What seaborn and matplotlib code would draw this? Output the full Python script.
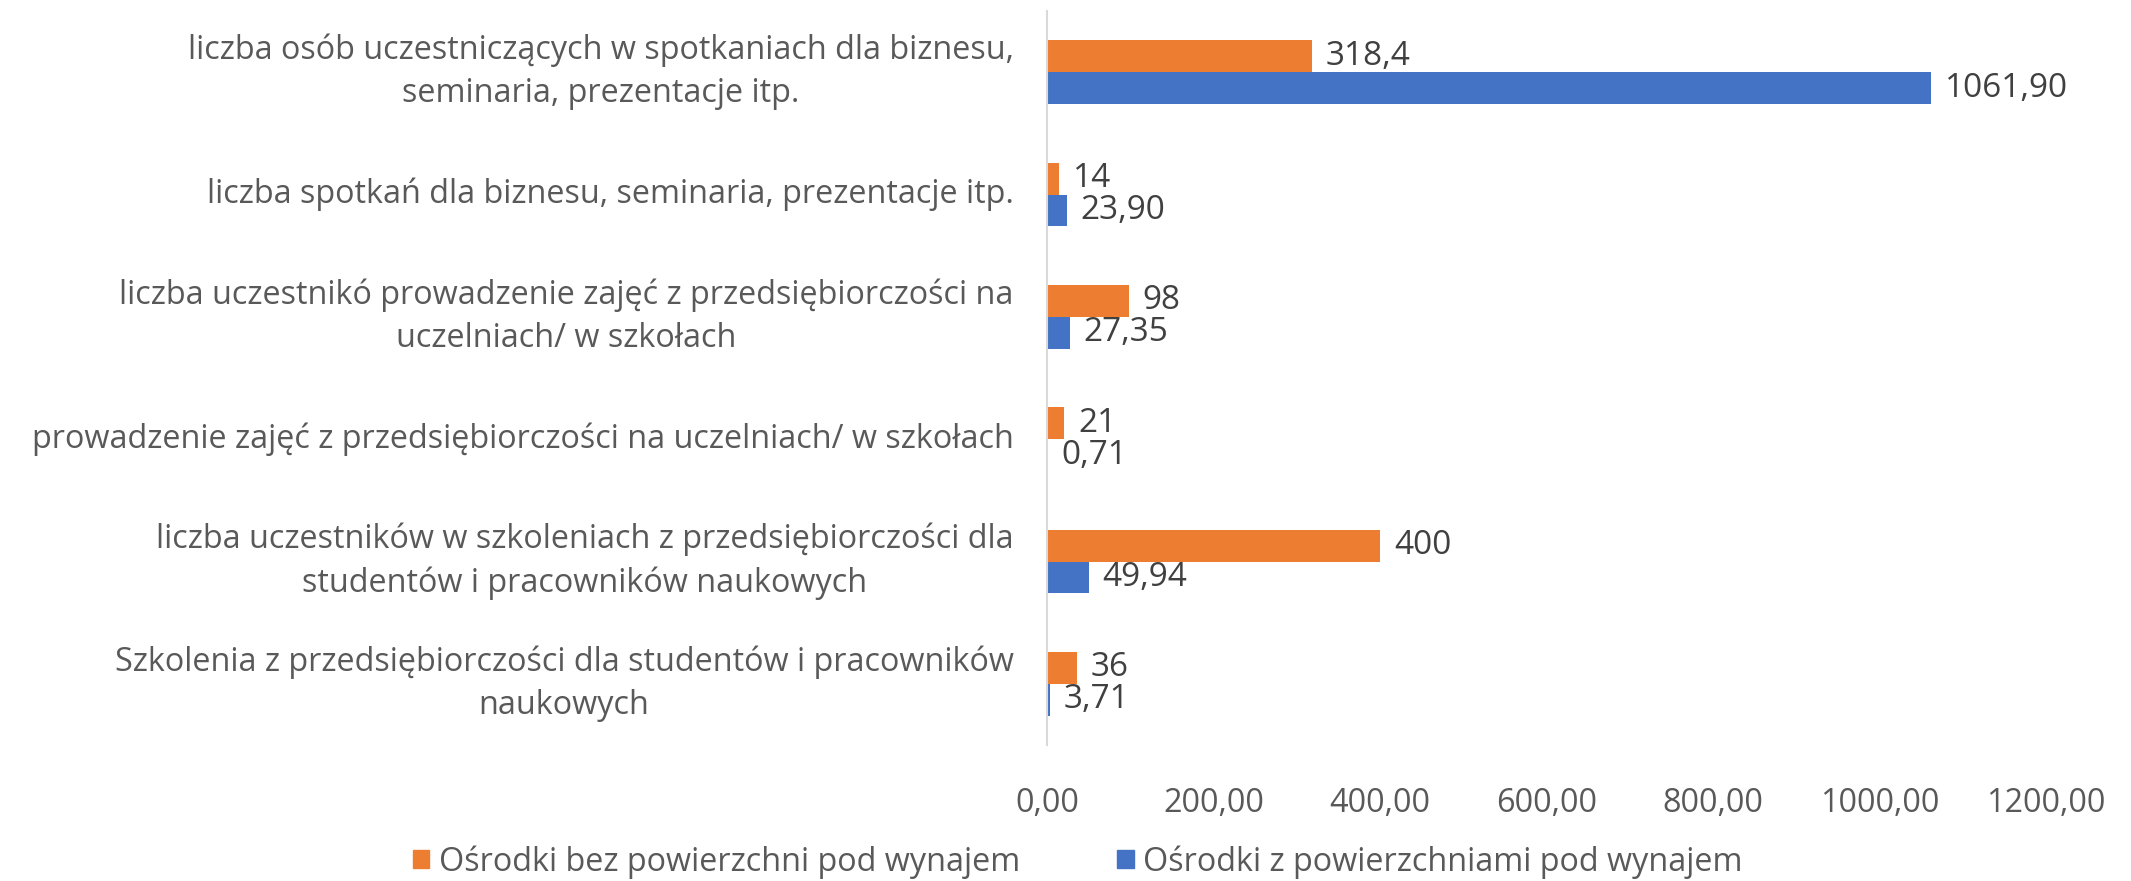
import numpy as np
import pandas as pd
import seaborn as sns
import matplotlib.pyplot as plt
import matplotlib.ticker as mticker

sns.set_theme(style="white")
plt.rcParams['font.family'] = ['Open Sans', 'DejaVu Sans']

# data
categories = [
    "liczba osób uczestniczących w spotkaniach dla biznesu,\nseminaria, prezentacje itp.",
    "liczba spotkań dla biznesu, seminaria, prezentacje itp.",
    "liczba uczestnikó prowadzenie zajęć z przedsiębiorczości na\nuczelniach/ w szkołach",
    "prowadzenie zajęć z przedsiębiorczości na uczelniach/ w szkołach",
    "liczba uczestników w szkoleniach z przedsiębiorczości dla\nstudentów i pracowników naukowych",
    "Szkolenia z przedsiębiorczości dla studentów i pracowników\nnaukowych",
]
series_names = ["Ośrodki bez powierzchni pod wynajem", "Ośrodki z powierzchniami pod wynajem"]
bez_values = [318.4, 14, 98, 21, 400, 36]
z_values = [1061.90, 23.90, 27.35, 0.71, 49.94, 3.71]
bez_labels = ["318,4", "14", "98", "21", "400", "36"]
z_labels = ["1061,90", "23,90", "27,35", "0,71", "49,94", "3,71"]
colors = ["#ED7D31", "#4472C4"]

df = pd.DataFrame({
    "kategoria": categories * 2,
    "wartosc": bez_values + z_values,
    "seria": [series_names[0]] * 6 + [series_names[1]] * 6,
})

fs = 23.3
fig = plt.figure(figsize=(21.31, 8.81), dpi=100)
ax = fig.add_axes([1047 / 2131, 136 / 881, (2046 - 1047) / 2131, (870 - 136) / 881])

sns.barplot(data=df, x="wartosc", y="kategoria", hue="seria", hue_order=series_names,
            order=categories, palette=colors, saturation=1, orient="h", width=0.52,
            linewidth=0, errorbar=None, ax=ax, legend=False)

for cont, labs in zip(ax.containers, [bez_labels, z_labels]):
    ax.bar_label(cont, labels=labs, padding=10, fontsize=24, color="#404040")

ax.set_xlim(0, 1200)
ax.set_ylim(5.5, -0.5)
ax.xaxis.set_major_locator(mticker.MultipleLocator(200))
ax.xaxis.set_major_formatter(mticker.FuncFormatter(lambda v, p: f"{v:.2f}".replace(".", ",")))
ax.set_xlabel("")
ax.set_ylabel("")
ax.tick_params(axis="x", length=0, pad=30, labelsize=fs, labelcolor="#595959")
ax.tick_params(axis="y", length=0, pad=24, labelsize=fs, labelcolor="#595959")
for lab in ax.get_yticklabels():
    lab.set_multialignment("center")
    lab.set_linespacing(1.4)
    lab.set_verticalalignment("center")

for s in ["top", "right", "bottom"]:
    ax.spines[s].set_visible(False)
ax.spines["left"].set_color("#D9D9D9")
ax.spines["left"].set_linewidth(1.5)

handles = [plt.Rectangle((0, 0), 1, 1, color=c) for c in colors]
fig.legend(handles, series_names, loc="center", bbox_to_anchor=(1078 / 2131, 19 / 881),
           ncol=2, frameon=False, fontsize=fs, labelcolor="#595959",
           handlelength=0.5, handleheight=0.5, handletextpad=0.3, columnspacing=3.0)

fig.savefig("out.png", dpi=100)
